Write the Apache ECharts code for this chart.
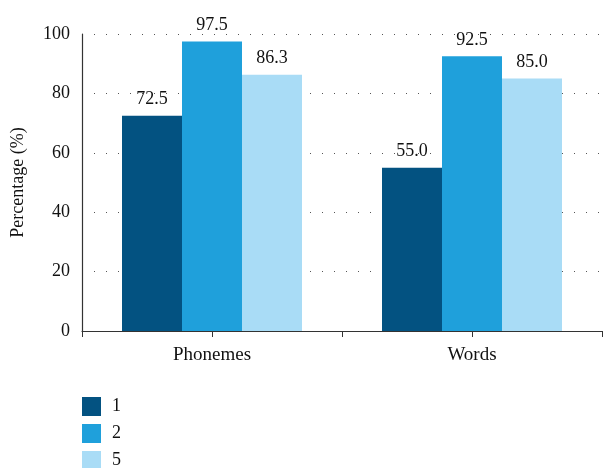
<!DOCTYPE html>
<html>
<head>
<meta charset="utf-8">
<style>
  html, body { margin: 0; padding: 0; background: #fff; }
  #chart { width: 603px; height: 468px; }
</style>
<script src="https://cdn.jsdelivr.net/npm/echarts@6/dist/echarts.min.js"></script>
</head>
<body>
<div id="chart"></div>
<script>
// Recognition percentages per unit type
var categories = ['Phonemes', 'Words'];
var seriesNames = ['1', '2', '5'];
var series1 = [72.5, 55.0];
var series2 = [97.5, 92.5];
var series5 = [86.3, 85.0];
var yTicks = [0, 20, 40, 60, 80, 100];

var colors = ['#035281', '#1fa0db', '#a9dcf6'];
var font = '"Liberation Serif", "DejaVu Serif", serif';
var ink = '#111';

var chart = echarts.init(document.getElementById('chart'));

function bar(name, data, color) {
  return {
    name: name,
    type: 'bar',
    data: data,
    barWidth: 60,
    barGap: '0%',
    itemStyle: { color: color },
    label: {
      show: true,
      position: 'top',
      distance: 7,
      fontFamily: font,
      fontSize: 18,
      color: ink,
      formatter: function (p) { return p.value.toFixed(1); }
    }
  };
}

chart.setOption({
  animation: false,
  grid: { left: 82, right: 1, top: 34, bottom: 137, outerBoundsMode: 'none', containLabel: false },
  legend: {
    data: seriesNames,
    orient: 'vertical',
    left: 82,
    top: 397,
    height: 80,
    itemWidth: 19,
    itemHeight: 19,
    itemGap: 8,
    padding: 0,
    icon: 'rect',
    textStyle: { fontFamily: font, fontSize: 18, color: ink, padding: [0, 0, 0, 6] }
  },
  xAxis: [{
    type: 'category',
    data: categories,
    boundaryGap: true,
    axisLine: { lineStyle: { color: '#333', width: 1.2 } },
    axisTick: { show: true, length: 6, inside: false, lineStyle: { color: '#333' } },
    axisLabel: { fontFamily: font, fontSize: 19, color: ink, margin: 15 }
  }, {
    // extra ticks under each category centre
    type: 'category',
    data: categories,
    position: 'bottom',
    boundaryGap: true,
    axisLine: { show: false },
    axisTick: { show: true, alignWithLabel: true, length: 6, lineStyle: { color: '#333' } },
    axisLabel: { show: false }
  }],
  yAxis: {
    type: 'value',
    min: yTicks[0],
    max: yTicks[yTicks.length - 1],
    interval: 20,
    name: 'Percentage (%)',
    nameLocation: 'middle',
    nameGap: 55,
    nameTextStyle: { fontFamily: font, fontSize: 18, color: ink },
    axisLine: { show: true, lineStyle: { color: '#333', width: 1.2 } },
    axisTick: { show: false },
    axisLabel: { fontFamily: font, fontSize: 18, color: ink, margin: 12 },
    splitLine: { show: true, lineStyle: { color: '#555', type: [1, 11], width: 1 } }
  },
  series: [
    bar(seriesNames[0], series1, colors[0]),
    bar(seriesNames[1], series2, colors[1]),
    bar(seriesNames[2], series5, colors[2])
  ]
});
</script>
</body>
</html>
